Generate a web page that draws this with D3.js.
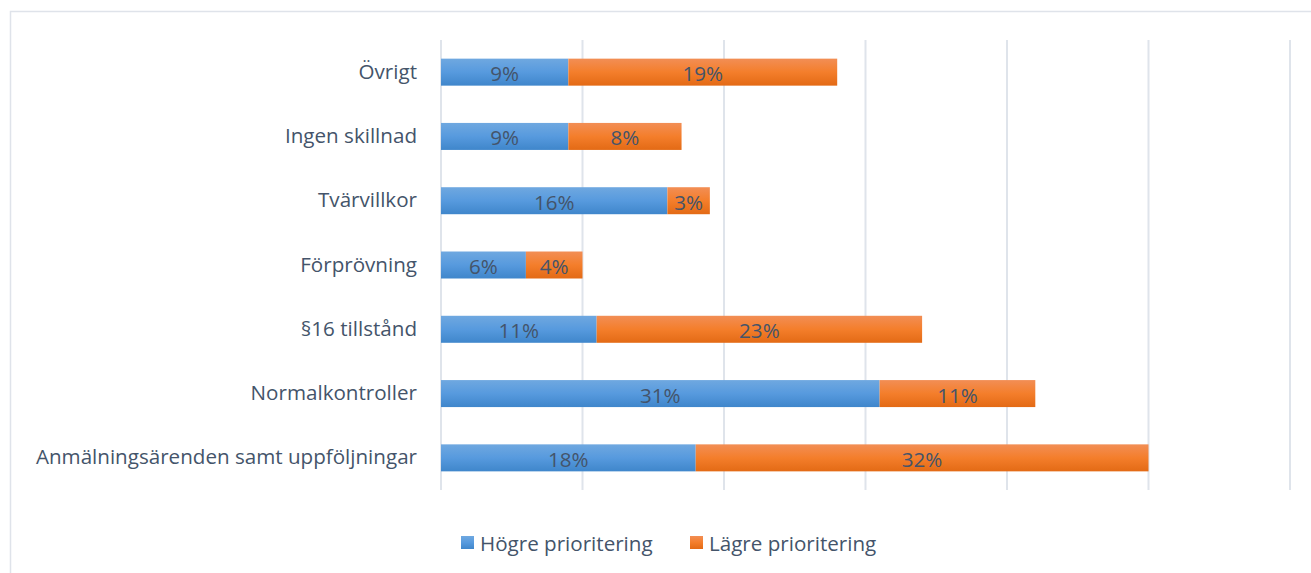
<!DOCTYPE html>
<html><head><meta charset="utf-8">
<script src="https://cdn.jsdelivr.net/npm/d3@7"></script>
<style>body{margin:0;background:#fff;}svg{display:block;}</style>
</head><body>
<svg id="c" width="1311" height="573"></svg>
<script>
const categories = ["Övrigt","Ingen skillnad","Tvärvillkor","Förprövning","§16 tillstånd","Normalkontroller","Anmälningsärenden samt uppföljningar"];
const hogre = [9, 9, 16, 6, 11, 31, 18];
const lagre = [19, 8, 3, 4, 23, 11, 32];
const seriesNames = ["Högre prioritering","Lägre prioritering"];
const xTicks = [0,10,20,30,40,50,60];

const font = "'Open Sans', 'Noto Sans', sans-serif";
const textColor = "#44546a";
const fs = 20.6;
const svg = d3.select("#c");
const defs = svg.append("defs");
function grad(id, top, mid, bot){
  const g = defs.append("linearGradient").attr("id",id).attr("x1",0).attr("y1",0).attr("x2",0).attr("y2",1);
  g.append("stop").attr("offset","0%").attr("stop-color",top);
  g.append("stop").attr("offset","50%").attr("stop-color",mid);
  g.append("stop").attr("offset","100%").attr("stop-color",bot);
}
grad("gb","#6fa8e0","#579ade","#3f86cb");
grad("go","#f28e55","#f47e2b","#e36a15");

// frame
svg.append("rect").attr("x",10.5).attr("y",11.5).attr("width",1320).attr("height",600)
  .attr("fill","none").attr("stroke","#dfe3ea").attr("stroke-width",1.5);

const x = d3.scaleLinear().domain([0,60]).range([441,1290]);
const y = d3.scaleBand().domain(categories).range([40,490]).paddingInner(0.58).paddingOuter(0.29);

// gridlines
svg.append("g").selectAll("line").data(xTicks).join("line")
  .attr("x1",d=>x(d)).attr("x2",d=>x(d)).attr("y1",40).attr("y2",490)
  .attr("stroke","#dfe4eb").attr("stroke-width",2);

const data = categories.map((c,i)=>({c, a:hogre[i], b:lagre[i]}));
const g = svg.append("g");
g.selectAll("rect.a").data(data).join("rect").attr("class","a")
  .attr("x",x(0)).attr("y",d=>y(d.c)).attr("width",d=>x(d.a)-x(0)).attr("height",y.bandwidth())
  .attr("fill","url(#gb)");
g.selectAll("rect.b").data(data).join("rect").attr("class","b")
  .attr("x",d=>x(d.a)).attr("y",d=>y(d.c)).attr("width",d=>x(d.a+d.b)-x(d.a)).attr("height",y.bandwidth())
  .attr("fill","url(#go)");

const lblStyle = s=>s.attr("font-family",font).attr("font-size",fs).attr("fill",textColor)
  .attr("text-anchor","middle").attr("dominant-baseline","central");
g.selectAll("text.a").data(data).join("text").attr("class","a")
  .attr("x",d=>(x(0)+x(d.a))/2).attr("y",d=>y(d.c)+y.bandwidth()/2+1).text(d=>d.a+"%").call(lblStyle);
g.selectAll("text.b").data(data).join("text").attr("class","b")
  .attr("x",d=>(x(d.a)+x(d.a+d.b))/2).attr("y",d=>y(d.c)+y.bandwidth()/2+1).text(d=>d.b+"%").call(lblStyle);

// category axis
const yAxis = d3.axisLeft(y).tickSize(0).tickPadding(24);
const ag = svg.append("g").attr("transform","translate(441,0)").call(yAxis);
ag.select(".domain").remove();
ag.selectAll("text").attr("font-family",font).attr("font-size",fs).attr("fill",textColor).attr("dy","0.32em");

// legend
const legendItems = [{n:seriesNames[0],f:"url(#gb)",x:461},{n:seriesNames[1],f:"url(#go)",x:690}];
const lg = svg.append("g").selectAll("g").data(legendItems).join("g").attr("transform",d=>`translate(${d.x},536)`);
lg.append("rect").attr("width",13).attr("height",13).attr("fill",d=>d.f);
lg.append("text").attr("x",19).attr("y",7).attr("dominant-baseline","central")
  .attr("font-family",font).attr("font-size",fs).attr("fill",textColor).text(d=>d.n);
</script>
</body></html>
